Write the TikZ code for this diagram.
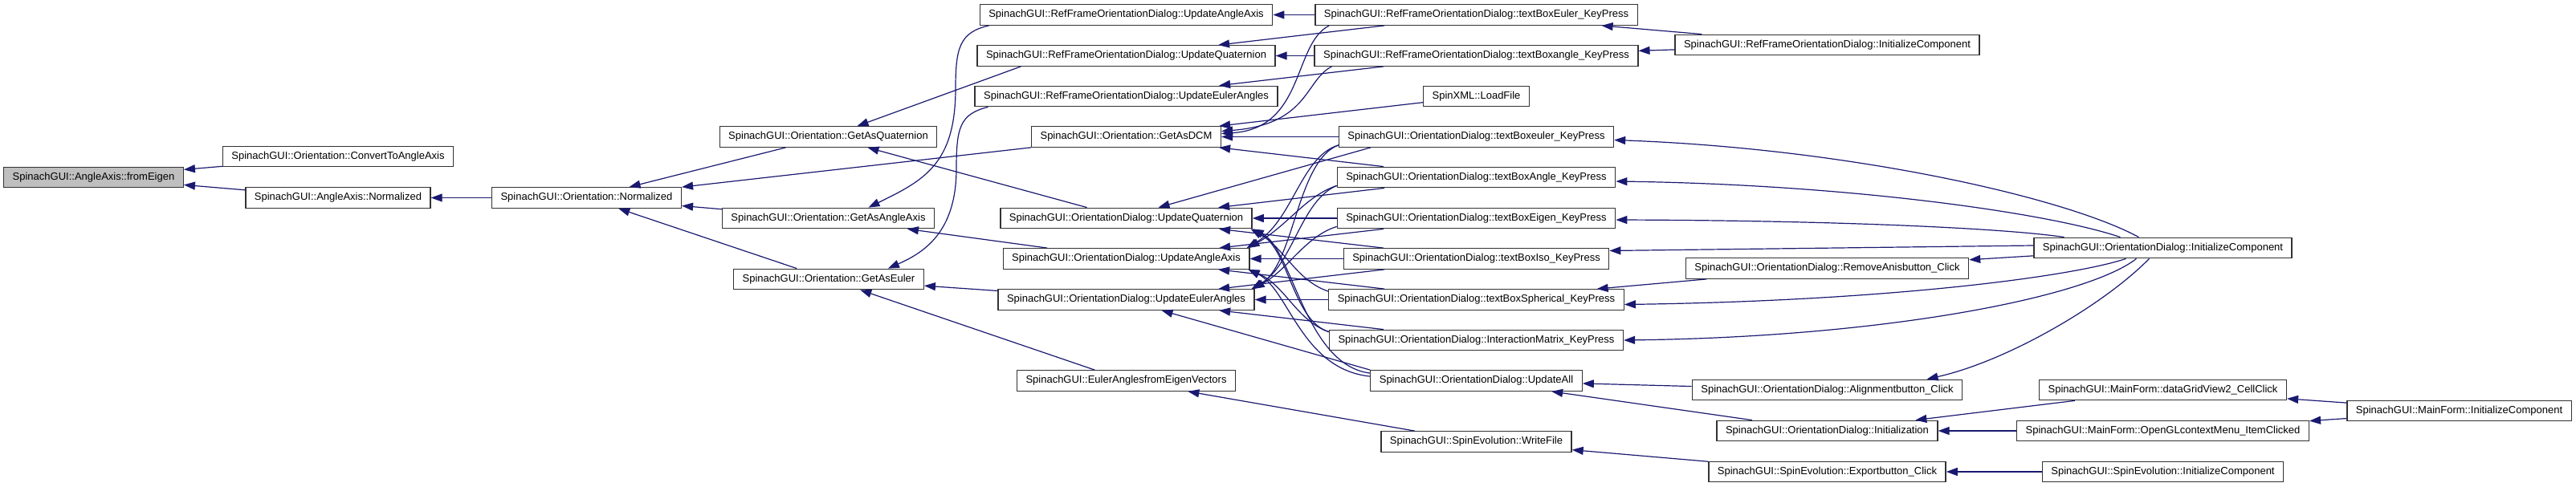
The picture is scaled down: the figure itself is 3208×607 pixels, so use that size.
\documentclass[tikz,border=0pt]{standalone}
\usepackage{fontspec}
\setmainfont{Liberation Sans}
\usetikzlibrary{arrows.meta}
\definecolor{callblue}{RGB}{25,25,112}
\definecolor{focusgray}{RGB}{191,191,191}

\begin{document}
\begin{tikzpicture}[x=1pt, y=-1pt,
  fn/.style={draw=black!80, line width=1.3pt, fill=white, inner xsep=11pt, inner ysep=0pt,
             minimum height=25.5pt, font=\fontsize{13}{15}\selectfont},
  calls/.style={draw=callblue, line width=1.2pt, -{Triangle[length=14pt,width=10pt]}},
]
\useasboundingbox (0,0) rectangle (3208,607);

\node[fn, fill=focusgray] (fe) at (116.5,221) {SpinachGUI::AngleAxis::fromEigen};
\node[fn] (conv)   at (421,195)    {SpinachGUI::Orientation::ConvertToAngleAxis};
\node[fn] (aanorm) at (421,246.5)  {SpinachGUI::AngleAxis::Normalized};
\node[fn] (onorm)  at (730.5,246.5) {SpinachGUI::Orientation::Normalized};
\node[fn] (gquat)  at (1031.5,170.5) {SpinachGUI::Orientation::GetAsQuaternion};
\node[fn] (gaa)    at (1031.5,272) {SpinachGUI::Orientation::GetAsAngleAxis};
\node[fn] (geul)   at (1032,348)   {SpinachGUI::Orientation::GetAsEuler};
\node[fn] (rfaa)   at (1402.5,18.5) {SpinachGUI::RefFrameOrientationDialog::UpdateAngleAxis};
\node[fn] (rfq)    at (1402.5,69.5) {SpinachGUI::RefFrameOrientationDialog::UpdateQuaternion};
\node[fn] (rfe)    at (1402.5,120) {SpinachGUI::RefFrameOrientationDialog::UpdateEulerAngles};
\node[fn] (gdcm)   at (1402.5,170.5) {SpinachGUI::Orientation::GetAsDCM};
\node[fn] (odq)    at (1402.5,272) {SpinachGUI::OrientationDialog::UpdateQuaternion};
\node[fn] (odaa)   at (1402.5,322.5) {SpinachGUI::OrientationDialog::UpdateAngleAxis};
\node[fn] (ode)    at (1402.5,373.5) {SpinachGUI::OrientationDialog::UpdateEulerAngles};
\node[fn] (eaev)   at (1402.5,474.5) {SpinachGUI::EulerAnglesfromEigenVectors};
\node[fn] (rftbe)  at (1838.5,18.5) {SpinachGUI::RefFrameOrientationDialog::textBoxEuler\_KeyPress};
\node[fn] (rftba)  at (1838.5,69.5) {SpinachGUI::RefFrameOrientationDialog::textBoxangle\_KeyPress};
\node[fn] (lf)     at (1838.5,120) {SpinXML::LoadFile};
\node[fn] (tbeuler) at (1838.5,170.5) {SpinachGUI::OrientationDialog::textBoxeuler\_KeyPress};
\node[fn] (tbangle) at (1838.5,221) {SpinachGUI::OrientationDialog::textBoxAngle\_KeyPress};
\node[fn] (tbeigen) at (1838.5,272) {SpinachGUI::OrientationDialog::textBoxEigen\_KeyPress};
\node[fn] (tbiso)  at (1838.5,322.5) {SpinachGUI::OrientationDialog::textBoxIso\_KeyPress};
\node[fn] (tbsph)  at (1838.5,373.5) {SpinachGUI::OrientationDialog::textBoxSpherical\_KeyPress};
\node[fn] (im)     at (1838.5,424) {SpinachGUI::OrientationDialog::InteractionMatrix\_KeyPress};
\node[fn] (updall) at (1838.5,474.5) {SpinachGUI::OrientationDialog::UpdateAll};
\node[fn] (wf)     at (1838.5,550.5) {SpinachGUI::SpinEvolution::WriteFile};
\node[fn] (rfinit) at (2275.5,56)  {SpinachGUI::RefFrameOrientationDialog::InitializeComponent};
\node[fn] (ranis)  at (2275.5,334.5) {SpinachGUI::OrientationDialog::RemoveAnisbutton\_Click};
\node[fn] (align)  at (2275.5,486) {SpinachGUI::OrientationDialog::Alignmentbutton\_Click};
\node[fn] (init)   at (2275.5,537) {SpinachGUI::OrientationDialog::Initialization};
\node[fn] (expb)   at (2275.5,588) {SpinachGUI::SpinEvolution::Exportbutton\_Click};
\node[fn] (odinit) at (2693.5,309) {SpinachGUI::OrientationDialog::InitializeComponent};
\node[fn] (dgv)    at (2693.5,486) {SpinachGUI::MainForm::dataGridView2\_CellClick};
\node[fn] (ogl)    at (2693.5,537) {SpinachGUI::MainForm::OpenGLcontextMenu\_ItemClicked};
\node[fn] (seinit) at (2693.5,588) {SpinachGUI::SpinEvolution::InitializeComponent};
\node[fn] (mfinit) at (3062.5,512) {SpinachGUI::MainForm::InitializeComponent};

\draw[calls] (conv) -- (fe);
\draw[calls] (aanorm) -- (fe);
\draw[calls] (onorm) -- (aanorm);
\draw[calls] (gquat) -- (onorm);
\draw[calls] (gdcm) -- (onorm);
\draw[calls] (gaa) -- (onorm);
\draw[calls] (geul) -- (onorm);
\draw[calls] ([xshift=55pt]rfq.south west) -- ([xshift=36pt]gquat.north);
\draw[calls] (odq) -- (gquat);
\draw[calls] ([xshift=12pt]rfaa.south west) .. controls (1195,40) and (1190,60) .. (1190,110)
  .. controls (1190,205) and (1150,225) .. ([xshift=50pt]gaa.north);
\draw[calls] (odaa) -- (gaa);
\draw[calls] ([xshift=17pt]rfe.south west) .. controls (1195,142) and (1191,160) .. (1191,210)
  .. controls (1191,290) and (1150,315) .. ([xshift=-45pt]geul.north east);
\draw[calls] (ode) -- (geul);
\draw[calls] (eaev) -- (geul);
\draw[calls] (wf) -- (eaev);

\draw[calls] (lf) -- (gdcm);
\draw[calls] ([xshift=18pt]rftbe.south west) .. controls (1610,55) and (1625,160) .. ([yshift=4pt]gdcm.east);
\draw[calls] ([xshift=22pt]rftba.south west) .. controls (1625,100) and (1630,155) .. ([yshift=7pt]gdcm.east);
\draw[calls] (tbeuler) -- (gdcm);
\draw[calls] (tbangle) -- (gdcm);
\draw[calls] (rftbe) -- (rfaa);
\draw[calls] (rftbe) -- (rfq);
\draw[calls] (rftba) -- (rfq);
\draw[calls] (rftba) -- (rfe);
\draw[calls] (rfinit) -- (rftbe);
\draw[calls] (rfinit) -- (rftba);

\draw[calls] ([xshift=40pt]tbeuler.south west) -- ([xshift=40pt]odq.north);
\draw[calls] (tbangle) -- (odq);
\draw[calls] (tbeigen) -- (odq);
\draw[calls] (tbiso) -- (odq);
\draw[calls] ([yshift=-3pt]tbsph.north west) .. controls (1615,350) and (1600,310) .. ([xshift=-2pt]odq.south east);
\draw[calls] ([yshift=-3pt]im.north west) .. controls (1610,400) and (1605,310) .. ([xshift=-2pt]odq.south east);
\draw[calls] ([yshift=-4pt]updall.north west) .. controls (1625,455) and (1610,310) .. (odq.south east);
\draw[calls] (tbeigen) -- (odaa);
\draw[calls] ([yshift=3pt]tbeuler.south west) .. controls (1620,195) and (1610,275) .. ([xshift=-4pt]odaa.north east);
\draw[calls] ([yshift=3pt]tbangle.south west) .. controls (1625,245) and (1605,280) .. ([xshift=-2pt]odaa.north east);
\draw[calls] (tbiso) -- (odaa);
\draw[calls] (tbsph) -- (odaa);
\draw[calls] ([yshift=-3pt]im.north west) .. controls (1615,400) and (1600,355) .. ([xshift=-2pt]odaa.south east);
\draw[calls] ([yshift=-8pt]updall.north west) .. controls (1620,460) and (1605,360) .. ([xshift=-2pt]odaa.south east);
\draw[calls] (tbiso) -- (ode);
\draw[calls] ([yshift=3pt]tbeuler.south west) .. controls (1615,200) and (1612,330) .. ([xshift=-4pt]ode.north east);
\draw[calls] ([yshift=3pt]tbangle.south west) .. controls (1620,250) and (1610,330) .. ([xshift=-4pt]ode.north east);
\draw[calls] ([yshift=3pt]tbeigen.south west) .. controls (1625,295) and (1605,335) .. ([xshift=-2pt]ode.north east);
\draw[calls] (tbsph) -- (ode);
\draw[calls] (im) -- (ode);
\draw[calls] (updall.north west) -- ([xshift=44pt]ode.south);

\draw[calls] ([xshift=-30pt]odinit.north) .. controls (2570,245) and (2300,185) .. ([yshift=-4pt]tbeuler.east);
\draw[calls] ([xshift=-53pt]odinit.north) .. controls (2550,265) and (2300,230) .. ([yshift=-5pt]tbangle.east);
\draw[calls] ([xshift=-123pt]odinit.north) .. controls (2500,285) and (2300,275) .. ([yshift=-2pt]tbeigen.east);
\draw[calls] ([yshift=3pt]odinit.west) -- ([yshift=10pt]tbiso.east);
\draw[calls] (odinit) -- (ranis);
\draw[calls] ([xshift=-46pt]odinit.south) .. controls (2580,345) and (2350,375) .. ([yshift=-6pt]tbsph.east);
\draw[calls] ([xshift=-33pt]odinit.south) .. controls (2600,370) and (2350,420) .. (im.east);
\draw[calls] ([xshift=-17pt]odinit.south) .. controls (2620,380) and (2500,450) .. ([xshift=124pt]align.north);
\draw[calls] (ranis) -- (tbsph);
\draw[calls] (align) -- (updall);
\draw[calls] (init) -- (updall);
\draw[calls] (expb) -- (wf);
\draw[calls] (dgv) -- (init);
\draw[calls] (ogl) -- (init);
\draw[calls] (seinit) -- (expb);
\draw[calls] (mfinit) -- (dgv);
\draw[calls] (mfinit) -- (ogl);
\end{tikzpicture}
\end{document}
